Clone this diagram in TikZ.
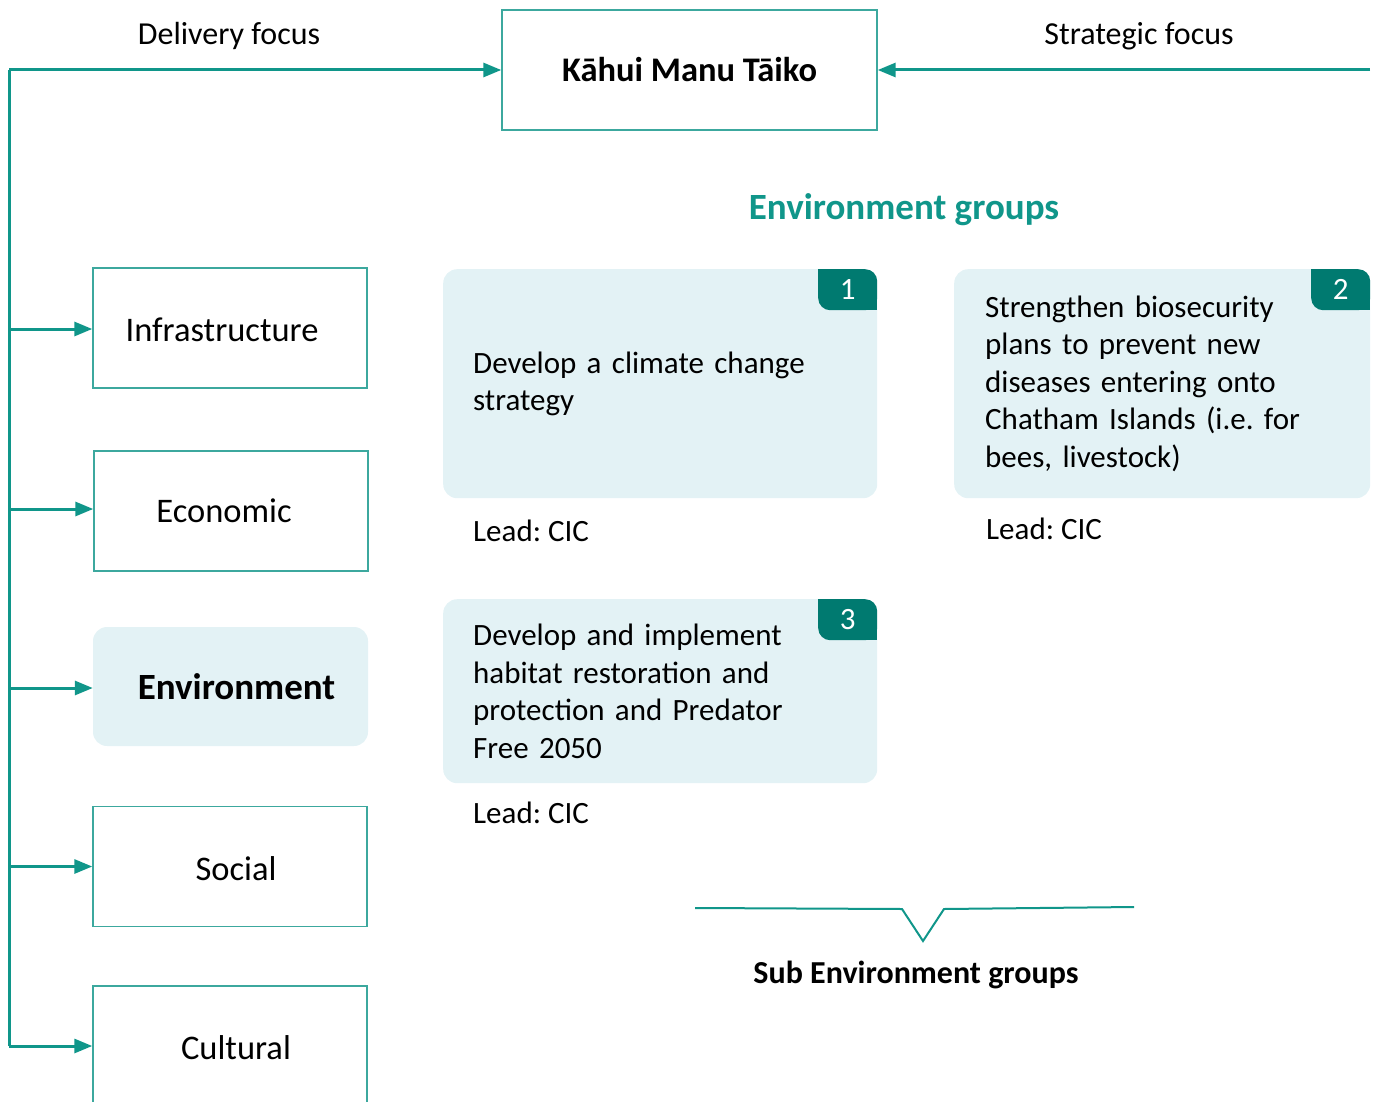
\documentclass[tikz,border=0pt]{standalone}
\usepackage{fontspec}
\setmainfont{Carlito}
\usetikzlibrary{arrows.meta,positioning}

\definecolor{tealline}{RGB}{16,150,138}
\definecolor{tealborder}{RGB}{60,168,158}
\definecolor{tealtab}{RGB}{0,122,112}
\definecolor{groupfill}{RGB}{227,242,245}

\frenchspacing
\begin{document}
\begin{tikzpicture}[x=1pt,y=-1pt,
  every node/.style={font=\fontsize{31}{37.5}\selectfont},
  conn/.style={draw=tealline,line width=3pt},
  arrowtip/.style={-{Triangle[length=18pt,width=14pt,color=tealline,fill=tealline]}},
  focus box/.style={draw=tealborder,line width=1.4pt,minimum width=375pt,minimum height=120pt,
    font=\fontsize{34.5}{40}\selectfont\bfseries},
  area box/.style={draw=tealborder,line width=1.4pt,minimum width=274pt,minimum height=120pt},
  area text/.style={font=\fontsize{34.5}{40}\selectfont},
  area fill/.style={fill=groupfill,rounded corners=14pt,minimum width=275pt,minimum height=119pt},
  group box/.style={fill=groupfill,rounded corners=14pt,align=left,inner xsep=30pt,
    anchor=north west},
  tab/.style={fill=tealtab,text=white,rounded corners=12pt,minimum width=59pt,minimum height=41pt,
    inner sep=0pt,anchor=north east},
  lead/.style={anchor=west,inner sep=0pt}]

  \useasboundingbox (0,0) rectangle (1378,1102);

  % top
  \node[focus box] (kahui) at (689.5,70) {Kāhui Manu Tāiko};
  \node[font=\fontsize{32}{38}\selectfont] (delivery) at (229,36) {Delivery focus};
  \node[font=\fontsize{32}{38}\selectfont] (strategic) at (1139,36) {Strategic focus};

  % areas
  \node[area box,label={[area text,xshift=-8pt,yshift=-2pt]center:Infrastructure}] (infra) at (230,328) {};
  \node[area box,label={[area text,xshift=-7pt]center:Economic}] (econ) at (231,511) {};
  \node[area fill,label={[area text,font=\fontsize{37}{40}\selectfont\bfseries,xshift=6pt]center:Environment}] (env) at (230.5,686.5) {};
  \node[area box,label={[area text,xshift=6pt,yshift=-2pt]center:Social}] (social) at (230,866.5) {};
  \node[area box,label={[area text,xshift=6pt,yshift=-2pt]center:Cultural}] (cultural) at (230,1046) {};

  \coordinate (d0) at (9,70);
  \coordinate (d1) at (9,329);
  \coordinate (d2) at (9,509);
  \coordinate (d3) at (9,688);
  \coordinate (d4) at (9,866.5);
  \coordinate (d5) at (9,1046);
  \coordinate (s0) at (1370,70);

  \draw[conn] (d5) -- (d0);
  \path[conn]
    (d0) edge[arrowtip] (kahui.west)
    (s0) edge[arrowtip] (kahui.east)
    (d1) edge[arrowtip] (d1 -| infra.west)
    (d2) edge[arrowtip] (d2 -| econ.west)
    (d3) edge[arrowtip] (d3 -| env.west)
    (d4) edge[arrowtip] (social.west)
    (d5) edge[arrowtip] (cultural.west);

  % environment groups
  \node[text=tealline,font=\fontsize{37}{42}\selectfont\bfseries] (heading) at (904,210) {Environment groups};

  \node[group box,minimum width=434pt,minimum height=229pt,text width=374pt] (g1) at (443,269)
    {Develop a climate change\\strategy};
  \node[group box,minimum width=416pt,minimum height=229pt,text width=354pt,inner xsep=31pt] (g2) at (954,269)
    {Strengthen biosecurity\\plans to prevent new\\diseases entering onto\\Chatham Islands (i.e. for\\bees, livestock)};
  \node[group box,minimum width=434pt,minimum height=184pt,text width=374pt] (g3) at (443,599)
    {Develop and implement\\habitat restoration and\\protection and Predator\\Free 2050};

  \foreach \g/\n in {g1/1,g2/2,g3/3}{
    \node[tab] (tab\n) at (\g.north east) {\n};
    \fill[tealtab] (tab\n.north west) rectangle +(13,13);
    \fill[tealtab] (tab\n.south east) rectangle +(-13,-13);
  }

  \node[lead] (lead1) at (473,531) {Lead: CIC};
  \node[lead] (lead2) at (986,529) {Lead: CIC};
  \node[lead] (lead3) at (473,813) {Lead: CIC};

  % sub groups
  \draw[draw=tealline,line width=2pt] (695,908) -- (902,909) -- (923,941) -- (944,909) -- (1134,907);
  \node[font=\fontsize{32}{38}\selectfont\bfseries] (sub) at (916,975) {Sub Environment groups};

\end{tikzpicture}
\end{document}
